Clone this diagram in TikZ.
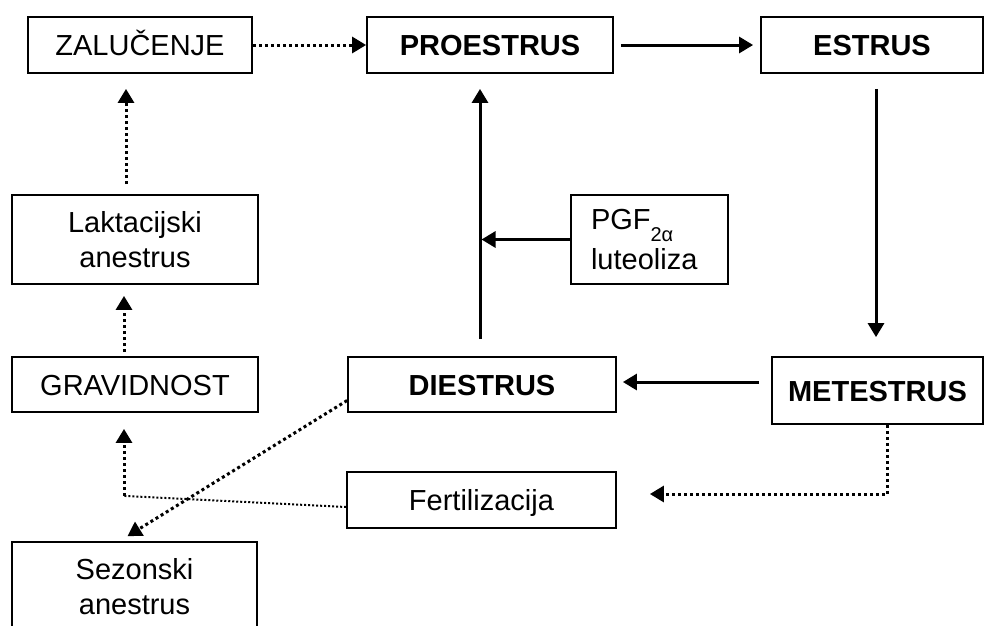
\documentclass[tikz,border=0pt]{standalone}
\usepackage{fontspec}
\setmainfont{Liberation Sans}
\usetikzlibrary{arrows.meta}

\begin{document}
\begin{tikzpicture}[
    x=1pt, y=-1pt,
    stage/.style={rectangle, draw=black, line width=1.8pt, inner sep=0pt,
        minimum height=56pt, font=\fontsize{29}{35}\selectfont,
        text height=21pt, text depth=0pt},
    stagebf/.style={stage, font=\fontsize{29}{35}\selectfont\bfseries},
    twoline/.style={rectangle, draw=black, line width=1.8pt, inner sep=0pt,
        minimum width=246pt, minimum height=89pt, align=center,
        font=\fontsize{29}{35}\selectfont},
    arr/.style={-{Triangle[length=14pt, width=16pt]}, line width=3pt},
    dotarr/.style={arr, dash pattern=on 3pt off 3pt},
    thindot/.style={line width=2pt, dash pattern=on 2pt off 2pt}
]
    \useasboundingbox (0,0) rectangle (984,625);

    % top row
    \node[stage, minimum width=224pt] (zal) at (140,45) {ZALUČENJE};
    \node[stagebf, minimum width=246pt] (pro) at (490,45) {PROESTRUS};
    \node[stagebf, minimum width=222pt] (est) at (872,45) {ESTRUS};

    % middle rows
    \node[twoline] (lak) at (135,239.5) {Laktacijski\\anestrus};
    \node[twoline, minimum width=157pt, text width=117pt, align=left,
        font=\fontsize{29}{40}\selectfont] (pgf) at (649.5,239.5)
        {PGF\smash{\raisebox{-12pt}{\fontsize{20}{20}\selectfont 2α}}\\luteoliza};
    \node[stage, minimum width=246pt, minimum height=55pt] (grav) at (135,384.5) {GRAVIDNOST};
    \node[stagebf, minimum width=268pt, minimum height=55pt] (die) at (482,384.5) {DIESTRUS};
    \node[stagebf, minimum width=211pt, minimum height=67pt] (met) at (877.5,390.5) {METESTRUS};

    % bottom
    \node[stage, minimum width=269pt] (fert) at (481.5,500) {Fertilizacija};
    \node[twoline, minimum width=245pt] (sez) at (134.5,586.5) {Sezonski\\anestrus};

    % cycle
    \draw[dotarr] (zal) -- (pro);
    \draw[arr, shorten <=7pt, shorten >=7pt] (pro) -- (est);
    \draw[arr] ([xshift=4pt,yshift=-15pt]est.south) -- ([xshift=-1.5pt,yshift=19pt]met.north);
    \draw[arr] ([xshift=-12pt,yshift=8.5pt]met.west) -- ([xshift=6pt,yshift=2.5pt]die.east);
    \coordinate (dup) at ([xshift=-2pt,yshift=17pt]die.north);
    \draw[arr] (dup) -- ([xshift=-10pt,yshift=-15pt]pro.south);
    \draw[arr, shorten >=1.5pt] (pgf.west) -- (pgf.west -| dup);

    % left column
    \draw[dotarr] ([xshift=-11pt,yshift=4pt]grav.north) -- ([xshift=-11pt,yshift=-11pt]lak.south);
    \draw[dotarr] ([xshift=-9pt,yshift=10pt]lak.north) -- ([xshift=-14pt,yshift=-15pt]zal.south);

    % fertilization and anestrus
    \draw[dotarr] ([xshift=10pt]met.south) |- ([xshift=33pt,yshift=6pt]fert.east);
    \coordinate (fc) at ([xshift=-11pt,yshift=-83pt]grav.south);
    \draw[thindot] ([yshift=-7pt]fert.west) -- (fc);
    \draw[dotarr] (fc) -- ([xshift=-11pt,yshift=-16pt]grav.south);
    \draw[dotarr] ([yshift=-16pt]die.west) -- ([xshift=-7pt,yshift=5pt]sez.north);
\end{tikzpicture}
\end{document}
